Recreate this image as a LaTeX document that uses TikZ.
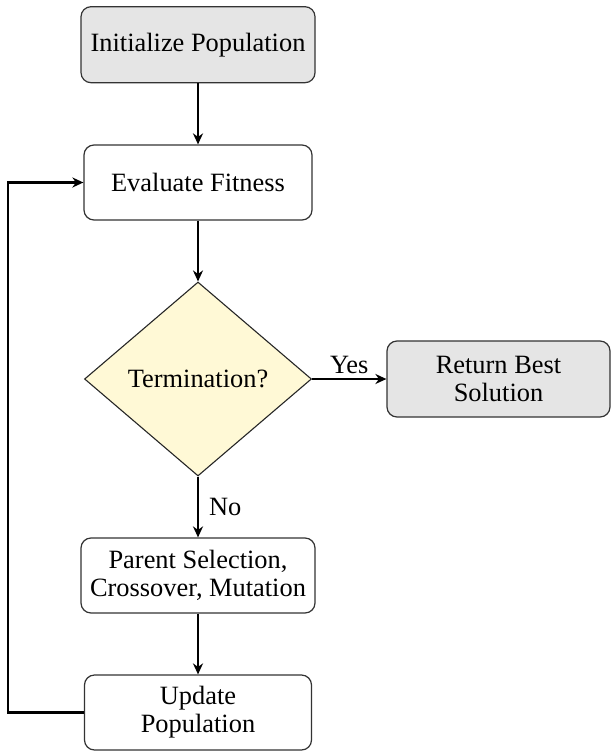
\documentclass[tikz,border=0pt]{standalone}
\usepackage{fontspec}
\setmainfont{Liberation Serif}
\usetikzlibrary{arrows.meta,shapes.geometric}
\definecolor{decfill}{RGB}{255,249,214}
\begin{document}
\begin{tikzpicture}[x=1pt,y=-1pt,
  txt/.style={font=\fontsize{26.4}{28}\selectfont},
  box/.style={txt, draw=black!80, line width=1.2pt, rounded corners=10pt, align=center, inner sep=0pt, fill=white},
  greybox/.style={box, fill=gray!20},
  decision/.style={txt, diamond, draw=black!85, line width=1.1pt, fill=decfill, inner sep=0pt, minimum width=227pt, minimum height=194pt},
  arrow/.style={line width=2.2pt, -{Stealth[length=11pt,width=10pt,inset=3.5pt]}},
  lbl/.style={txt}
]
\useasboundingbox (0,0) rectangle (611,751);
\node[greybox, minimum width=234pt, minimum height=76pt] (init) at (198,44.7) {Initialize Population};
\node[box, minimum width=228pt, minimum height=75pt] (eval) at (198,182.5) {Evaluate Fitness};
\node[decision] (term) at (198,379) {Termination?};
\node[greybox, minimum width=223pt, minimum height=76pt] (ret) at (498.5,379) {Return Best\\Solution};
\node[box, minimum width=234pt, minimum height=75pt] (ops) at (198,575.5) {Parent Selection,\\Crossover, Mutation};
\node[box, minimum width=227pt, minimum height=75pt] (upd) at (198,712.5) {Update\\Population};
\coordinate (loop) at (8.3,712.5);

\draw[arrow] (init) -- (eval);
\draw[arrow] (eval) -- (term);
\draw[arrow] (term) -- node[lbl, above, inner sep=4pt] {Yes} (ret);
\draw[arrow] (term) -- node[lbl, right, inner sep=10pt] {No} (ops);
\draw[arrow] (ops) -- (upd);
\draw[arrow] (upd.west) -- (loop) |- (eval.west);
\end{tikzpicture}
\end{document}
